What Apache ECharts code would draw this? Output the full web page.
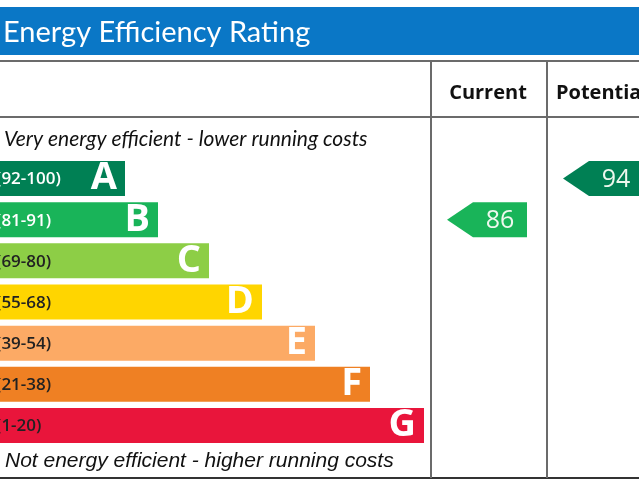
<!DOCTYPE html>
<html>
<head>
<meta charset="utf-8">
<title>Energy Efficiency Rating</title>
<script src="https://cdn.jsdelivr.net/npm/echarts@6/dist/echarts.min.js"></script>
<style>
  html, body { margin: 0; padding: 0; background: #fff; }
  #main { width: 639px; height: 480px; }
</style>
</head>
<body>
<div id="main"></div>
<script>
// bands, top (most efficient) to bottom
var bands = ['A', 'B', 'C', 'D', 'E', 'F', 'G']
var bandRanges = ['(92-100)', '(81-91)', '(69-80)', '(55-68)', '(39-54)', '(21-38)', '(1-20)']
var bandMin = [92, 81, 69, 55, 39, 21, 1]
var bandLength = [125, 158, 209, 262, 315, 370, 424]
var bandColors = ['#008054', '#19b459', '#8dce46', '#ffd500', '#fcaa65', '#ef8023', '#e9153b']
var rangeTextColors = ['#ffffff', '#ffffff', '#222222', '#222222', '#222222', '#222222', '#222222']

// ratings
var columns = ['Current', 'Potential']
var scores = [86, 94]

function bandOf(score) {
  for (var i = 0; i < bandMin.length; i++) {
    if (score >= bandMin[i]) return i
  }
  return bandMin.length - 1
}

var chart = echarts.init(document.getElementById('main'))

var lineColor = '#6b6b6b'

chart.setOption({
  animation: false,
  grid: [
    { left: 0, width: 639, top: 158, height: 288, outerBoundsMode: 'none' },
    // the potential column runs past the right edge of the picture
    { left: 431, width: 232, top: 158, height: 288, outerBoundsMode: 'none' }
  ],
  xAxis: [
    { gridIndex: 0, type: 'value', min: 0, max: 639, show: false },
    { gridIndex: 1, type: 'category', data: columns, show: false }
  ],
  yAxis: [
    { gridIndex: 0, type: 'category', data: bands, inverse: true, show: false },
    { gridIndex: 1, type: 'category', data: bands, inverse: true, show: false }
  ],
  series: [
    {
      type: 'bar',
      xAxisIndex: 0,
      yAxisIndex: 0,
      barWidth: 35,
      data: bandLength.map(function (v, i) {
        return { value: v, itemStyle: { color: bandColors[i] } }
      }),
      label: {
        show: true,
        position: 'insideRight',
        distance: 8,
        formatter: function (p) { return bands[p.dataIndex] },
        color: '#fff',
        fontSize: 38,
        fontWeight: 'bold',
        fontFamily: 'Open Sans'
      }
    },
    {
      type: 'bar',
      xAxisIndex: 0,
      yAxisIndex: 0,
      barWidth: 35,
      barGap: '-100%',
      silent: true,
      itemStyle: { color: 'rgba(0,0,0,0)' },
      data: bandLength.map(function (v, i) {
        return {
          value: v,
          label: { color: rangeTextColors[i] }
        }
      }),
      label: {
        show: true,
        position: 'insideLeft',
        distance: 0,
        offset: [-4, 1],
        formatter: function (p) { return bandRanges[p.dataIndex] },
        fontSize: 17,
        fontWeight: 600,
        fontFamily: 'Open Sans'
      }
    },
    {
      type: 'custom',
      xAxisIndex: 1,
      yAxisIndex: 1,
      data: scores.map(function (s, i) { return [i, bandOf(s), s] }),
      renderItem: function (params, api) {
        var c = api.coord([api.value(0), api.value(1)])
        var size = api.size([1, 1])
        var h = 35
        var tip = c[0] - size[0] / 2 + 16
        var right = c[0] + size[0] / 2 - 20
        var shoulder = tip + 26
        var top = c[1] - h / 2
        var bottom = c[1] + h / 2
        var colr = bandColors[api.value(1)]
        return {
          type: 'group',
          children: [
            {
              type: 'polygon',
              shape: { points: [[tip, c[1]], [shoulder, top], [right, top], [right, bottom], [shoulder, bottom]] },
              style: { fill: colr }
            },
            {
              type: 'text',
              style: {
                text: String(api.value(2)),
                x: (shoulder + right) / 2,
                y: c[1] + 1,
                align: 'center',
                verticalAlign: 'middle',
                fill: '#eef8ee',
                fontSize: 25,
                fontFamily: 'Open Sans'
              }
            }
          ]
        }
      }
    }
  ],
  graphic: [
    { type: 'rect', shape: { x: 0, y: 7, width: 639, height: 48 }, style: { fill: '#0a77c6' } },
    {
      type: 'text', x: 3, y: 33,
      style: { text: 'Energy Efficiency Rating', fill: '#fff', fontSize: 29, fontFamily: 'Lato', verticalAlign: 'middle' }
    },
    // table lines
    { type: 'line', shape: { x1: 0, y1: 61, x2: 639, y2: 61 }, style: { stroke: lineColor, lineWidth: 2 } },
    { type: 'line', shape: { x1: 0, y1: 117, x2: 639, y2: 117 }, style: { stroke: lineColor, lineWidth: 2 } },
    { type: 'line', shape: { x1: 0, y1: 478, x2: 639, y2: 478 }, style: { stroke: '#333', lineWidth: 2 } },
    { type: 'line', shape: { x1: 431, y1: 61, x2: 431, y2: 478 }, style: { stroke: lineColor, lineWidth: 2 } },
    { type: 'line', shape: { x1: 547, y1: 61, x2: 547, y2: 478 }, style: { stroke: lineColor, lineWidth: 2 } },
    // headers
    {
      type: 'text', x: 488, y: 93,
      style: { text: 'Current', fill: '#111', fontSize: 20, fontWeight: 'bold', fontFamily: 'Open Sans', align: 'center', verticalAlign: 'middle' }
    },
    {
      type: 'text', x: 556, y: 93,
      style: { text: 'Potential', fill: '#111', fontSize: 20, fontWeight: 'bold', fontFamily: 'Open Sans', verticalAlign: 'middle' }
    },
    {
      type: 'text', x: 4, y: 139,
      style: { text: 'Very energy efficient - lower running costs', fill: '#111', fontSize: 21, fontStyle: 'italic', fontFamily: 'Lato', verticalAlign: 'middle' }
    },
    {
      type: 'text', x: 5, y: 461,
      style: { text: 'Not energy efficient - higher running costs', fill: '#111', fontSize: 21, fontStyle: 'italic', fontFamily: 'Liberation Sans', verticalAlign: 'middle' }
    }
  ]
})
</script>
</body>
</html>
